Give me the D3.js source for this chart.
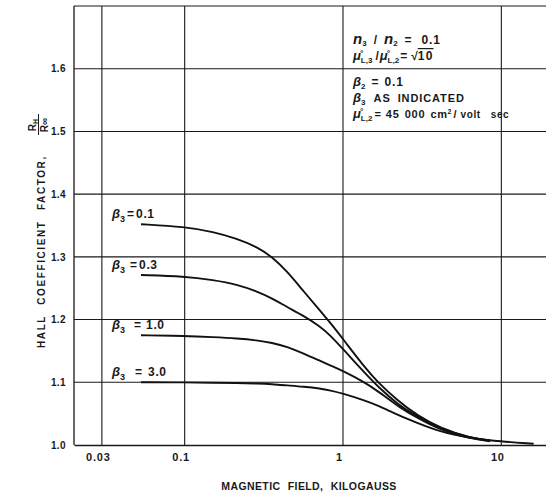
<!DOCTYPE html>
<html>
<head>
<meta charset="utf-8">
<script src="https://cdn.jsdelivr.net/npm/d3@7"></script>
<style>
  body { margin: 0; background: #fff; }
  svg { display: block; }
  text { font-family: "Liberation Sans", Arial, sans-serif; font-weight: bold; fill: #1a1a1a; }
</style>
</head>
<body>
<svg width="546" height="496"></svg>
<script>
// magnetic field, kilogauss (shared x values for the curves)
var fieldKG = [0.053, 0.1, 0.152, 0.214, 0.286, 0.356, 0.443, 0.564, 0.719, 0.83, 1.0, 1.37, 1.66, 2.21, 2.95, 4.1, 6.4, 8.5, 16];
// hall coefficient factor R_H / R_inf, one array per beta_3
var beta01 = [1.352, 1.348, 1.340, 1.329, 1.316, 1.300, 1.277, 1.245, 1.214, 1.195, 1.169, 1.124, 1.100, 1.071, 1.047, 1.027, 1.011, 1.007, null];
var beta03 = [1.271, 1.269, 1.263, 1.256, 1.245, 1.234, 1.220, 1.206, 1.189, 1.175, 1.153, 1.115, 1.093, 1.065, 1.045, 1.026, 1.011, 1.007, null];
var beta10 = [1.175, 1.174, 1.172, 1.170, 1.167, 1.163, 1.157, 1.146, 1.134, 1.127, 1.118, 1.100, 1.086, 1.062, 1.043, 1.024, 1.010, 1.006, null];
var beta30 = [1.100, 1.100, 1.099, 1.099, 1.098, 1.097, 1.095, 1.093, 1.090, 1.087, 1.082, 1.071, 1.063, 1.048, 1.035, 1.021, 1.011, 1.007, 1.002];
var betaLabels = ['0.1', '0.3', '1.0', '3.0'];

var xTicks = [0.03, 0.1, 1, 10];
var xTickLabels = ['0.03', '0.1', '1', '10'];
var yTicks = [1.0, 1.1, 1.2, 1.3, 1.4, 1.5, 1.6];

// label spacing around "=" for each curve label
var eqGap = [2, 5, 9, 10];
var valGap = [2, 2, 5, 6];

var svg = d3.select('svg');

var x = d3.scaleLog().domain([0.02, 20]).range([74, 549]);
var y = d3.scaleLinear().domain([1.0, 1.7]).range([445, 6]);

var ink = '#1a1a1a';

// grid
svg.append('g').selectAll('line.v')
  .data(xTicks)
  .enter().append('line')
  .attr('x1', function(d){ return x(d); })
  .attr('x2', function(d){ return x(d); })
  .attr('y1', y(1.7)).attr('y2', y(1.0))
  .attr('stroke', ink).attr('stroke-width', 1.1);

svg.append('g').selectAll('line.h')
  .data(yTicks.slice(1).concat([1.7]))
  .enter().append('line')
  .attr('x1', x(0.02)).attr('x2', 546)
  .attr('y1', function(d){ return y(d); })
  .attr('y2', function(d){ return y(d); })
  .attr('stroke', ink).attr('stroke-width', 1.1);

// left border
svg.append('line')
  .attr('x1', x(0.02)).attr('x2', x(0.02))
  .attr('y1', y(1.7)).attr('y2', y(1.0))
  .attr('stroke', ink).attr('stroke-width', 1.3);

// axes
var xAxis = d3.axisBottom(x)
  .tickValues(xTicks)
  .tickFormat(function(d, i){ return xTickLabels[i]; })
  .tickSize(0).tickPadding(8);
var gx = svg.append('g').attr('transform', 'translate(0,' + y(1.0) + ')').call(xAxis);
gx.select('.domain').attr('stroke', ink).attr('stroke-width', 1.4);
gx.selectAll('text').attr('font-size', 11).attr('fill', ink).attr('dx', -4)
  .attr('letter-spacing', 0.8)
  .style('font-family', '"Liberation Sans", Arial, sans-serif');

var yAxis = d3.axisLeft(y)
  .tickValues(yTicks)
  .tickFormat(d3.format('.1f'))
  .tickSize(0).tickPadding(8);
var gy = svg.append('g').attr('transform', 'translate(' + x(0.02) + ',0)').call(yAxis);
gy.select('.domain').remove();
gy.selectAll('text').attr('font-size', 10).attr('fill', ink)
  .attr('letter-spacing', 0.4)
  .style('font-family', '"Liberation Sans", Arial, sans-serif');

// curves
var series = [beta01, beta03, beta10, beta30];
var line = d3.line()
  .x(function(d){ return x(d[0]); })
  .y(function(d){ return y(d[1]); })
  .curve(d3.curveBasis);

series.forEach(function(vals, k){
  var pts = fieldKG.map(function(f, i){ return [f, vals[i]]; }).filter(function(p){ return p[1] !== null; });
  svg.append('path')
    .attr('d', line(pts))
    .attr('fill', 'none')
    .attr('stroke', '#111')
    .attr('stroke-width', 1.9);

  var lab = svg.append('text')
    .attr('x', x(fieldKG[0]) - 29)
    .attr('y', y(vals[0]) - 6)
    .attr('font-size', 12);
  lab.append('tspan').text('β').style('font-style', 'italic').attr('font-size', 13);
  lab.append('tspan').text('3').attr('font-size', 9).attr('dy', 4);
  lab.append('tspan').text('=').attr('dy', -4).attr('dx', eqGap[k]);
  lab.append('tspan').text(betaLabels[k]).attr('dx', valGap[k]).attr('letter-spacing', 0.6);
});

// annotation block
var note = svg.append('g').attr('font-size', 12);
function sub(t, s, dy) {
  t.append('tspan').text(s).attr('font-size', 8).attr('dy', dy || 3);
}
var t1 = note.append('text').attr('x', 353).attr('y', 44);
t1.append('tspan').text('n').style('font-style', 'italic').attr('font-size', 15);
sub(t1, '3', 2);
t1.append('tspan').text('/').attr('dy', -2).attr('dx', 7);
t1.append('tspan').text('n').style('font-style', 'italic').attr('font-size', 15).attr('dx', 7);
sub(t1, '2', 2);
t1.append('tspan').text('=').attr('dy', -2).attr('dx', 7);
t1.append('tspan').text('0.1').attr('dx', 10).attr('letter-spacing', 0.8);

var t2 = note.append('text').attr('x', 353).attr('y', 60);
t2.append('tspan').text('μ̊').style('font-style', 'italic').attr('font-size', 13);
sub(t2, 'L,3');
t2.append('tspan').text('/').attr('dy', -3).attr('dx', 3);
t2.append('tspan').text('μ̊').style('font-style', 'italic').attr('font-size', 13).attr('dx', 1);
sub(t2, 'L,2');
t2.append('tspan').text('=').attr('dy', -3).attr('dx', 1);
t2.append('tspan').text('√').attr('dx', 4);
t2.append('tspan').text('10').style('text-decoration', 'overline').attr('letter-spacing', 1.2);

var t3 = note.append('text').attr('x', 353).attr('y', 86);
t3.append('tspan').text('β').style('font-style', 'italic').attr('font-size', 13);
sub(t3, '2');
t3.append('tspan').text('=').attr('dy', -3).attr('dx', 6);
t3.append('tspan').text('0.1').attr('dx', 6).attr('letter-spacing', 0.8);

var t4 = note.append('text').attr('x', 353).attr('y', 102);
t4.append('tspan').text('β').style('font-style', 'italic').attr('font-size', 13);
sub(t4, '3');
t4.append('tspan').text('AS').attr('dy', -3).attr('dx', 8).attr('font-size', 11).attr('letter-spacing', 0.9);
t4.append('tspan').text('INDICATED').attr('dx', 7).attr('font-size', 11).attr('letter-spacing', 0.9);

var t5 = note.append('text').attr('x', 353).attr('y', 118);
t5.append('tspan').text('μ̊').style('font-style', 'italic').attr('font-size', 13);
sub(t5, 'L,2');
t5.append('tspan').text('=').attr('dy', -3).attr('dx', 2).attr('font-size', 11);
t5.append('tspan').text('45').attr('dx', 5).attr('font-size', 11).attr('letter-spacing', 0.8);
t5.append('tspan').text('000').attr('dx', 5).attr('font-size', 11).attr('letter-spacing', 0.8);
t5.append('tspan').text('cm').attr('dx', 5).attr('font-size', 11).attr('letter-spacing', 0.6);
t5.append('tspan').text('2').attr('font-size', 7).attr('dy', -4);
t5.append('tspan').text('/').attr('dy', 4).attr('dx', 2).attr('font-size', 11);
t5.append('tspan').text('volt').attr('dx', 4).attr('font-size', 10).attr('letter-spacing', 0.6);
t5.append('tspan').text('sec').attr('dx', 10).attr('font-size', 10).attr('letter-spacing', 0.6);

// axis titles
svg.append('text')
  .attr('x', 309).attr('y', 490)
  .attr('text-anchor', 'middle')
  .attr('font-size', 10.5)
  .attr('letter-spacing', 0.4)
  .attr('word-spacing', 4)
  .text('MAGNETIC FIELD, KILOGAUSS');

var ylab = svg.append('g').attr('transform', 'translate(45,348) rotate(-90)');
ylab.append('text')
  .attr('x', 0).attr('y', 0)
  .attr('font-size', 10)
  .attr('letter-spacing', 1.6)
  .attr('word-spacing', 6)
  .text('HALL COEFFICIENT FACTOR,');
ylab.append('text').attr('x', 223).attr('y', -9).attr('font-size', 10).attr('text-anchor', 'middle')
  .html('R<tspan font-size="7" dy="2">H</tspan>');
ylab.append('line').attr('x1', 213).attr('x2', 234).attr('y1', -6.5).attr('y2', -6.5)
  .attr('stroke', ink).attr('stroke-width', 1);
ylab.append('text').attr('x', 223).attr('y', 3).attr('font-size', 10).attr('text-anchor', 'middle')
  .text('R∞');
</script>
</body>
</html>
